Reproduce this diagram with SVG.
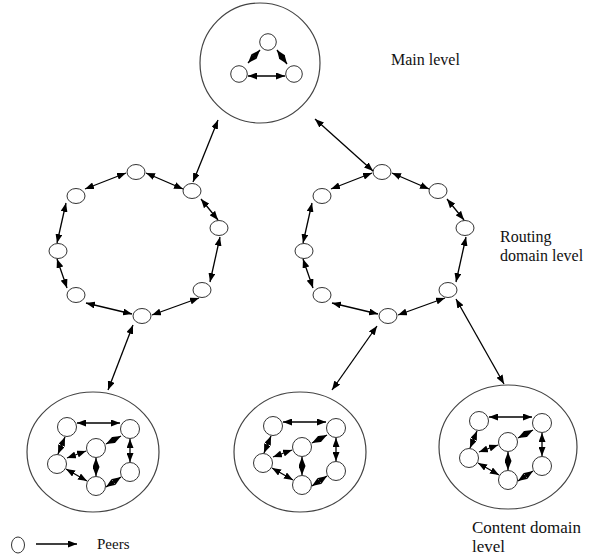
<svg xmlns="http://www.w3.org/2000/svg" width="596" height="556" viewBox="0 0 596 556">
<style>
.big{fill:none;stroke:#444;stroke-width:1.2}
.peer{fill:#fff;stroke:#333;stroke-width:1}
.c{stroke:#000;stroke-width:1.3;fill:none;marker-start:url(#ah);marker-end:url(#ah)}
.s{stroke:#000;stroke-width:1.3;fill:none;marker-end:url(#ah)}
.t{font-family:"Liberation Serif","Times New Roman",serif;fill:#111}
</style>
<defs>
<marker id="ah" viewBox="0 0 10 10" refX="10" refY="5" markerUnits="userSpaceOnUse" markerWidth="9" markerHeight="7" orient="auto-start-reverse" preserveAspectRatio="none">
<path d="M0,0 L10,5 L0,10 z" fill="#000"/>
</marker>
</defs>
<rect width="596" height="556" fill="#fff"/>

<!-- level containers -->
<g id="main-level"><ellipse class="big" cx="260" cy="63" rx="60" ry="60"/></g>
<g id="content-left"><ellipse class="big" cx="93" cy="452" rx="66" ry="60"/></g>
<g id="content-mid"><ellipse class="big" cx="300" cy="452" rx="66" ry="60"/></g>
<g id="content-right"><ellipse class="big" cx="508" cy="447" rx="69" ry="62"/></g>

<!-- main level peers -->
<g id="m1"><circle class="peer" cx="268" cy="42" r="8.3"/></g>
<g id="m2"><circle class="peer" cx="239" cy="74" r="8.3"/></g>
<g id="m3"><circle class="peer" cx="294" cy="74" r="8.3"/></g>

<!-- left routing ring -->
<g id="lr1"><ellipse class="peer" cx="136" cy="172" rx="9" ry="7.5"/></g>
<g id="lr2"><ellipse class="peer" cx="192" cy="191" rx="9" ry="7.5"/></g>
<g id="lr3"><ellipse class="peer" cx="219" cy="228" rx="9" ry="7.5"/></g>
<g id="lr4"><ellipse class="peer" cx="202" cy="290" rx="9" ry="7.5"/></g>
<g id="lr5"><ellipse class="peer" cx="142" cy="316" rx="9" ry="7.5"/></g>
<g id="lr6"><ellipse class="peer" cx="76" cy="295" rx="9" ry="7.5"/></g>
<g id="lr7"><ellipse class="peer" cx="58" cy="251" rx="9" ry="7.5"/></g>
<g id="lr8"><ellipse class="peer" cx="76" cy="196" rx="9" ry="7.5"/></g>

<!-- right routing ring -->
<g id="rr1"><ellipse class="peer" cx="382" cy="172" rx="9" ry="7.5"/></g>
<g id="rr2"><ellipse class="peer" cx="438" cy="191" rx="9" ry="7.5"/></g>
<g id="rr3"><ellipse class="peer" cx="465" cy="228" rx="9" ry="7.5"/></g>
<g id="rr4"><ellipse class="peer" cx="448" cy="290" rx="9" ry="7.5"/></g>
<g id="rr5"><ellipse class="peer" cx="388" cy="316" rx="9" ry="7.5"/></g>
<g id="rr6"><ellipse class="peer" cx="322" cy="295" rx="9" ry="7.5"/></g>
<g id="rr7"><ellipse class="peer" cx="304" cy="251" rx="9" ry="7.5"/></g>
<g id="rr8"><ellipse class="peer" cx="322" cy="196" rx="9" ry="7.5"/></g>

<!-- left content peers -->
<g id="lc1"><circle class="peer" cx="67" cy="427" r="9.5"/></g>
<g id="lc2"><circle class="peer" cx="130" cy="429" r="9.5"/></g>
<g id="lc3"><circle class="peer" cx="96" cy="448" r="9.5"/></g>
<g id="lc4"><circle class="peer" cx="57" cy="464" r="9.5"/></g>
<g id="lc5"><circle class="peer" cx="130" cy="472" r="9.5"/></g>
<g id="lc6"><circle class="peer" cx="96" cy="486" r="9.5"/></g>

<!-- middle content peers -->
<g id="mc1"><circle class="peer" cx="273" cy="426" r="9.5"/></g>
<g id="mc2"><circle class="peer" cx="336" cy="428" r="9.5"/></g>
<g id="mc3"><circle class="peer" cx="302" cy="447" r="9.5"/></g>
<g id="mc4"><circle class="peer" cx="263" cy="463" r="9.5"/></g>
<g id="mc5"><circle class="peer" cx="336" cy="471" r="9.5"/></g>
<g id="mc6"><circle class="peer" cx="302" cy="485" r="9.5"/></g>

<!-- right content peers -->
<g id="rc1"><circle class="peer" cx="479" cy="421" r="9.5"/></g>
<g id="rc2"><circle class="peer" cx="542" cy="423" r="9.5"/></g>
<g id="rc3"><circle class="peer" cx="508" cy="442" r="9.5"/></g>
<g id="rc4"><circle class="peer" cx="469" cy="458" r="9.5"/></g>
<g id="rc5"><circle class="peer" cx="542" cy="466" r="9.5"/></g>
<g id="rc6"><circle class="peer" cx="508" cy="480" r="9.5"/></g>

<!-- legend peer -->
<g id="legend-peer"><ellipse class="peer" cx="18" cy="545" rx="6.5" ry="8"/></g>

<g id="connectors">
  <!-- main level -->
  <line class="c" x1="248" y1="63" x2="260" y2="50"/>
  <line class="c" x1="277" y1="50" x2="287" y2="64"/>
  <line class="c" x1="248" y1="76" x2="285" y2="76"/>
  <!-- main to routing -->
  <line class="c" x1="218" y1="120" x2="193" y2="182"/>
  <line class="c" x1="315" y1="119" x2="373" y2="171"/>
  <!-- left ring -->
  <g id="ring-left-edges">
    <line class="c" x1="85" y1="189" x2="126" y2="173"/>
    <line class="c" x1="146" y1="173" x2="183" y2="189"/>
    <line class="c" x1="201" y1="199" x2="218" y2="220"/>
    <line class="c" x1="220" y1="237" x2="210" y2="282"/>
    <line class="c" x1="199" y1="298" x2="152" y2="315"/>
    <line class="c" x1="132" y1="314" x2="86" y2="303"/>
    <line class="c" x1="67" y1="288" x2="57" y2="259"/>
    <line class="c" x1="57" y1="243" x2="66" y2="203"/>
  </g>
  <!-- right ring -->
  <g id="ring-right-edges" transform="translate(246,0)">
    <line class="c" x1="85" y1="189" x2="126" y2="173"/>
    <line class="c" x1="146" y1="173" x2="183" y2="189"/>
    <line class="c" x1="201" y1="199" x2="218" y2="220"/>
    <line class="c" x1="220" y1="237" x2="210" y2="282"/>
    <line class="c" x1="199" y1="298" x2="152" y2="315"/>
    <line class="c" x1="132" y1="314" x2="86" y2="303"/>
    <line class="c" x1="67" y1="288" x2="57" y2="259"/>
    <line class="c" x1="57" y1="243" x2="66" y2="203"/>
  </g>
  <!-- routing to content -->
  <line class="c" x1="133" y1="325" x2="108" y2="390"/>
  <line class="c" x1="377" y1="326" x2="332" y2="390"/>
  <line class="c" x1="456" y1="299" x2="504" y2="384"/>
  <!-- content edges -->
  <g id="content-left-edges">
    <line class="c" x1="77" y1="423" x2="120" y2="423"/>
    <line class="c" x1="65" y1="437" x2="58" y2="454"/>
    <line class="c" x1="106" y1="444" x2="121" y2="436"/>
    <line class="c" x1="86" y1="451" x2="67" y2="458"/>
    <line class="c" x1="96" y1="458" x2="96" y2="476"/>
    <line class="c" x1="66" y1="469" x2="87" y2="481"/>
    <line class="c" x1="106" y1="487" x2="121" y2="477"/>
    <line class="c" x1="130" y1="439" x2="130" y2="462"/>
  </g>
  <g id="content-mid-edges" transform="translate(206,-1)">
    <line class="c" x1="77" y1="423" x2="120" y2="423"/>
    <line class="c" x1="65" y1="437" x2="58" y2="454"/>
    <line class="c" x1="106" y1="444" x2="121" y2="436"/>
    <line class="c" x1="86" y1="451" x2="67" y2="458"/>
    <line class="c" x1="96" y1="458" x2="96" y2="476"/>
    <line class="c" x1="66" y1="469" x2="87" y2="481"/>
    <line class="c" x1="106" y1="487" x2="121" y2="477"/>
    <line class="c" x1="130" y1="439" x2="130" y2="462"/>
  </g>
  <g id="content-right-edges" transform="translate(412,-6)">
    <line class="c" x1="77" y1="423" x2="120" y2="423"/>
    <line class="c" x1="65" y1="437" x2="58" y2="454"/>
    <line class="c" x1="106" y1="444" x2="121" y2="436"/>
    <line class="c" x1="86" y1="451" x2="67" y2="458"/>
    <line class="c" x1="96" y1="458" x2="96" y2="476"/>
    <line class="c" x1="66" y1="469" x2="87" y2="481"/>
    <line class="c" x1="106" y1="487" x2="121" y2="477"/>
    <line class="c" x1="130" y1="439" x2="130" y2="462"/>
  </g>
  <!-- legend arrow -->
  <line class="s" x1="36" y1="544" x2="77" y2="544"/>
</g>

<g id="labels">
  <text class="t" x="391" y="65" font-size="16">Main level</text>
  <text class="t" x="500" y="242" font-size="16">Routing</text>
  <text class="t" x="500" y="261" font-size="16">domain level</text>
  <text class="t" x="472" y="533" font-size="17">Content domain</text>
  <text class="t" x="472" y="552" font-size="17">level</text>
  <text class="t" x="97" y="549" font-size="15">Peers</text>
</g>
</svg>
